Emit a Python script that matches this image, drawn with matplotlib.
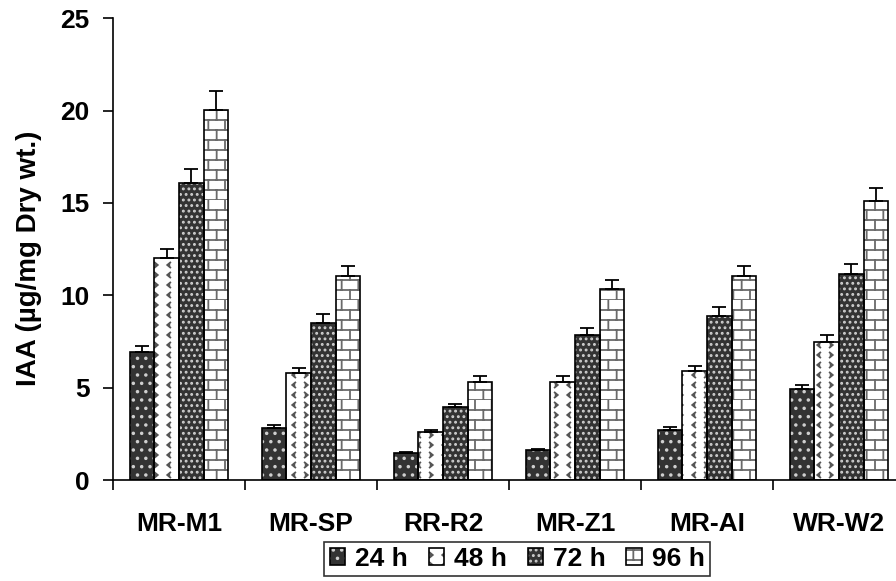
import numpy as np
import matplotlib
matplotlib.use("Agg")
import matplotlib.pyplot as plt
from matplotlib import hatch as mhatch
from matplotlib.path import Path
from matplotlib.legend_handler import HandlerTuple

strains = ["MR-M1", "MR-SP", "RR-R2", "MR-Z1", "MR-AI", "WR-W2"]
times = ["24 h", "48 h", "72 h", "96 h"]

iaa_24 = [6.93, 2.83, 1.44, 1.65, 2.70, 4.90]
iaa_48 = [12.0, 5.80, 2.61, 5.31, 5.90, 7.48]
iaa_72 = [16.1, 8.52, 3.96, 7.87, 8.88, 11.17]
iaa_96 = [20.03, 11.03, 5.31, 10.36, 11.03, 15.08]

err_24 = [0.35, 0.15, 0.07, 0.05, 0.18, 0.22]
err_48 = [0.50, 0.27, 0.09, 0.30, 0.26, 0.37]
err_72 = [0.75, 0.45, 0.14, 0.36, 0.50, 0.50]
err_96 = [1.00, 0.55, 0.30, 0.49, 0.55, 0.74]


# brick texture for the 96 h bars
class BrickHatch(mhatch.HatchPatternBase):
    def __init__(self, hatch, density):
        self.rows = 10 if 'b' in hatch else 0
        self.cols = 6
        self.num_lines = self.rows * (1 + self.cols)
        self.num_vertices = self.num_lines * 2

    def set_vertices_and_codes(self, vertices, codes):
        k = 0
        for i in range(self.rows):
            y0 = i / self.rows
            y1 = (i + 1) / self.rows
            vertices[k] = (0, y0)
            vertices[k + 1] = (1, y0)
            k += 2
            shift = 0.5 * (i % 2) / self.cols
            for j in range(self.cols):
                x = j / self.cols + shift
                vertices[k] = (x, y0)
                vertices[k + 1] = (x, y1)
                k += 2
        codes[0::2] = Path.MOVETO
        codes[1::2] = Path.LINETO


# little > < marks for the 48 h bars
class ChevronHatch(mhatch.HatchPatternBase):
    def __init__(self, hatch, density):
        self.rows = 10 if 'c' in hatch else 0
        self.cols = 8
        self.num_marks = self.rows * self.cols
        self.num_vertices = self.num_marks * 3

    def set_vertices_and_codes(self, vertices, codes):
        k = 0
        w, h = 0.03, 0.025
        for i in range(self.rows):
            for j in range(self.cols):
                cx = (j + 0.5) / self.cols
                cy = (i + 0.5) / self.rows
                d = w if j % 2 == 0 else -w
                vertices[k] = (cx - d / 2, cy + h)
                vertices[k + 1] = (cx + d / 2, cy)
                vertices[k + 2] = (cx - d / 2, cy - h)
                codes[k] = Path.MOVETO
                codes[k + 1] = Path.LINETO
                codes[k + 2] = Path.LINETO
                k += 3


mhatch._hatch_types.append(BrickHatch)
mhatch._hatch_types.append(ChevronHatch)

import warnings
warnings.filterwarnings("ignore")

plt.rcParams['font.family'] = ['Liberation Sans', 'DejaVu Sans']
plt.rcParams['font.weight'] = 'bold'
plt.rcParams['hatch.linewidth'] = 1.3

fig = plt.figure(figsize=(8.96, 5.81), dpi=100)
ax = fig.add_axes([0.1261, 0.1738, 0.884, 0.795])

x = np.arange(len(strains))
w = 0.186
series = [iaa_24, iaa_48, iaa_72, iaa_96]
errors = [err_24, err_48, err_72, err_96]
faces = ["#333333", "white", "#333333", "white"]
hatch_cols = ["#cfcfcf", "#555555", "#cfcfcf", "#6a6a6a"]
hatches = ["..", "c", "...", "b"]

handles = []
for i in range(4):
    pos = x + (i - 1.5) * w
    hb = ax.bar(pos, series[i], w, color=faces[i], hatch=hatches[i],
                edgecolor=hatch_cols[i], linewidth=0, zorder=2)
    ob = ax.bar(pos, series[i], w, facecolor="none", edgecolor="black",
                linewidth=1.2, zorder=3)
    ax.errorbar(pos, series[i], yerr=[np.zeros(len(strains)), errors[i]],
                fmt="none", ecolor="black", elinewidth=1.3, capsize=5,
                capthick=1.3, zorder=4)
    handles.append((hb[0], ob[0]))

ax.set_xlim(-0.5, len(strains) - 0.5)
ax.set_ylim(0, 25)
ax.set_yticks(np.arange(0, 26, 5))
ax.set_xticks(np.arange(len(strains) + 1) - 0.5)
ax.set_xticklabels([])
ax.set_xticks(x, minor=True)
ax.set_xticklabels(strains, minor=True)
ax.tick_params(axis="x", which="major", direction="out", length=7, width=1.2)
ax.tick_params(axis="x", which="minor", length=0, pad=23, labelsize=19)
ax.tick_params(axis="y", direction="out", length=7, width=1.2, pad=10, labelsize=19)

for s in ["top", "right"]:
    ax.spines[s].set_visible(False)
for s in ["left", "bottom"]:
    ax.spines[s].set_linewidth(1.2)

ax.set_ylabel("IAA (µg/mg Dry wt.)", fontsize=20, fontweight="bold")
ax.yaxis.set_label_coords(-0.09, 0.48)

leg = ax.legend(handles, times, handler_map={tuple: HandlerTuple(ndivide=1)},
                loc="center", bbox_to_anchor=(517 / 896, 1 - 559 / 581),
                bbox_transform=fig.transFigure, ncol=4, fontsize=19,
                frameon=True, fancybox=False, edgecolor="black",
                handlelength=0.6, handleheight=0.6, handletextpad=0.35,
                columnspacing=0.8, borderpad=0.2, borderaxespad=0)
leg.get_frame().set_linewidth(1.2)

fig.savefig("out.png", dpi=100)
